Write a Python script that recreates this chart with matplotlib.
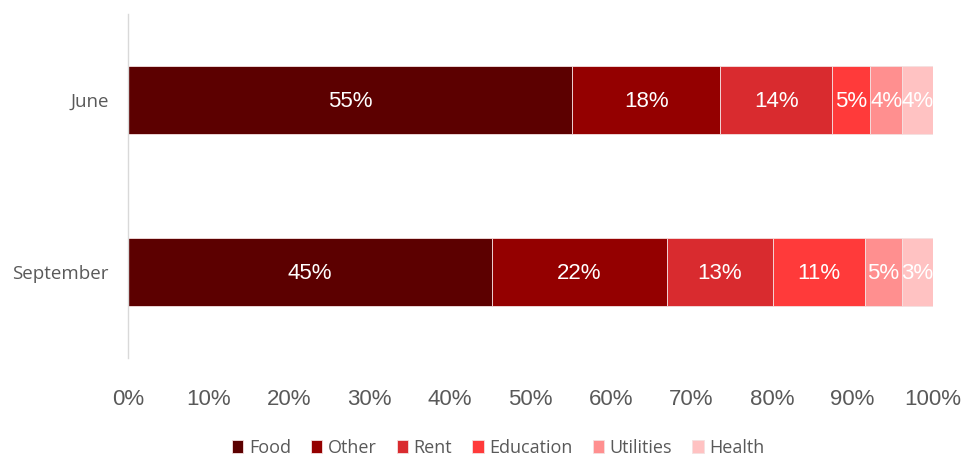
import matplotlib
matplotlib.use("Agg")
import matplotlib.pyplot as plt
from matplotlib.ticker import PercentFormatter
import numpy as np

months = ["June", "September"]
categories = ["Food", "Other", "Rent", "Education", "Utilities", "Health"]
food = [55.2, 45.2]
other = [18.4, 21.7]
rent = [13.9, 13.2]
education = [4.7, 11.4]
utilities = [4.0, 4.7]
health = [3.8, 3.8]
labels = [["55%", "45%"], ["18%", "22%"], ["14%", "13%"], ["5%", "11%"], ["4%", "5%"], ["4%", "3%"]]
colors = ["#5C0000", "#940000", "#D92B2F", "#FF3A3A", "#FF8F8F", "#FFC2C2"]
series = [food, other, rent, education, utilities, health]

fig = plt.figure(figsize=(9.69, 4.57), dpi=100)
ax = fig.add_axes([0.1321, 0.2166, 0.8307, 0.7528])

y = np.arange(len(months))
left = np.zeros(len(months))
for name, vals, col, labs in zip(categories, series, colors, labels):
    vals = np.array(vals)
    ax.barh(y, vals, left=left, height=0.4, color=col, edgecolor="#F4E0E0",
            linewidth=0.6, label=name)
    for yi, (l, v, t) in enumerate(zip(left, vals, labs)):
        ax.text(l + v / 2, yi + 0.01, t, ha="center", va="center", color="white",
                fontsize=16, family="Liberation Sans")
    left = left + vals

ax.set_xlim(0, 100)
ax.set_ylim(1.5, -0.5)
ax.set_yticks(y)
ax.set_yticklabels(months, fontsize=13.5, color="#595959", family="Open Sans")
ax.set_xticks(np.arange(0, 101, 10))
ax.xaxis.set_major_formatter(PercentFormatter(decimals=0))
for t in ax.get_xticklabels():
    t.set_fontsize(16)
    t.set_color("#595959")
    t.set_family("Liberation Sans")
ax.tick_params(axis="both", length=0)
ax.tick_params(axis="x", pad=22)
ax.tick_params(axis="y", pad=14)
for s in ["top", "right", "bottom"]:
    ax.spines[s].set_visible(False)
ax.spines["left"].set_color("#D9D9D9")
ax.spines["left"].set_linewidth(1)

leg = fig.legend(loc="center", bbox_to_anchor=(0.514, 0.02), ncol=6, frameon=False,
                 handlelength=0.65, handleheight=0.65, handletextpad=0.3, columnspacing=1.1,
                 prop={"family": "Open Sans", "size": 13})
for t in leg.get_texts():
    t.set_color("#595959")

fig.savefig("out.png", dpi=100)
